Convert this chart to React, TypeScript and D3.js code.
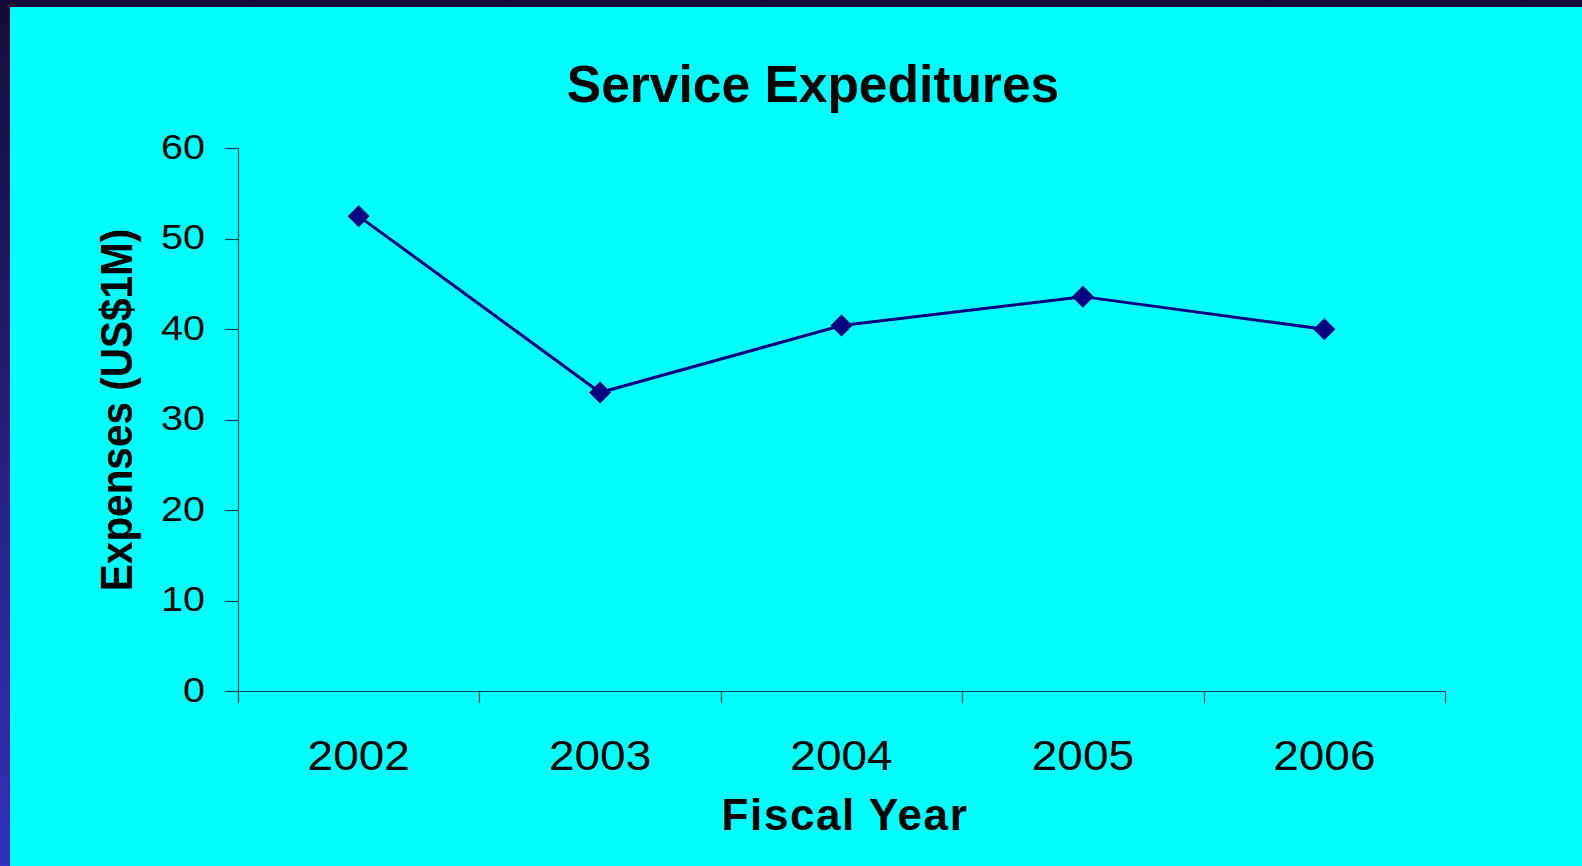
import React from "react";
import * as d3 from "d3";

const years = ["2002", "2003", "2004", "2005", "2006"];
const expenses = [52.5, 33, 40.4, 43.6, 40];
const yTicks = [0, 10, 20, 30, 40, 50, 60];
const title = "Service Expeditures";
const xTitle = "Fiscal Year";
const yTitle = "Expenses (US$1M)";

const W = 1582;
const H = 866;
const left = 238;
const right = 1445;
const top = 148.3;
const bottom = 691;

export default function App() {
  const x = d3.scaleBand<string>().domain(years).range([left, right]).padding(0);
  const y = d3.scaleLinear().domain([0, 60]).range([bottom, top]);
  const line = d3
    .line<number>()
    .x((_, i) => (x(years[i]) as number) + x.bandwidth() / 2)
    .y((d) => y(d));
  const xTickPos = [...years.map((yr) => x(yr) as number), right];
  const font = "'Liberation Sans', Arial, sans-serif";
  const axisColor = "#0e4a4a";
  const m = 11;

  return (
    <div style={{ position: "absolute", left: 0, top: 0 }}>
      <svg width={W} height={H} style={{ display: "block" }}>
        <defs>
          <linearGradient id="bg" x1="0" y1="0" x2="0" y2="1">
            <stop offset="0" stopColor="#120d36" />
            <stop offset="1" stopColor="#3331bd" />
          </linearGradient>
        </defs>
        <rect x={0} y={0} width={W} height={H} fill="url(#bg)" />
        <rect x={10} y={7} width={W - 10} height={H - 7} fill="#00ffff" />

        <text x={813} y={101.5} textAnchor="middle" fontFamily={font} fontWeight="bold" fontSize={51.5} fill="#000">
          {title}
        </text>

        {/* y axis */}
        <line x1={left + 0.5} x2={left + 0.5} y1={top} y2={bottom + 12} stroke={axisColor} strokeWidth={1.2} />
        {yTicks.map((t) => (
          <g key={t}>
            <line x1={left - 13} x2={left} y1={Math.round(y(t)) + 0.5} y2={Math.round(y(t)) + 0.5} stroke={axisColor} strokeWidth={1.2} />
            <text
              transform={`translate(205,${y(t) + 10.5}) scale(1,0.9)`}
              textAnchor="end"
              fontFamily={font}
              fontSize={39.5}
              fill="#000"
            >
              {t}
            </text>
          </g>
        ))}

        {/* x axis */}
        <line x1={left - 13} x2={right} y1={bottom + 0.5} y2={bottom + 0.5} stroke={axisColor} strokeWidth={1.2} />
        {xTickPos.map((p, i) => (
          <line key={i} x1={Math.round(p) + 0.5} x2={Math.round(p) + 0.5} y1={bottom} y2={bottom + 12} stroke={axisColor} strokeWidth={1.2} />
        ))}
        {years.map((yr) => (
          <text
            key={yr}
            transform={`translate(${(x(yr) as number) + x.bandwidth() / 2},769.5) scale(1,0.93)`}
            textAnchor="middle"
            fontFamily={font}
            fontSize={46}
            fill="#000"
          >
            {yr}
          </text>
        ))}

        <text
          x={845}
          y={830}
          textAnchor="middle"
          fontFamily={font}
          fontWeight="bold"
          fontSize={44}
          letterSpacing={1.6}
          fill="#000"
        >
          {xTitle}
        </text>
        <text
          transform={`translate(132,410) rotate(-90) scale(1,1.1)`}
          textAnchor="middle"
          fontFamily={font}
          fontWeight="bold"
          fontSize={40.5}
          fill="#000"
        >
          {yTitle}
        </text>

        <path d={line(expenses) || ""} fill="none" stroke="#000080" strokeWidth={3} />
        {expenses.map((v, i) => {
          const cx = (x(years[i]) as number) + x.bandwidth() / 2;
          const cy = y(v);
          return (
            <path
              key={i}
              d={`M${cx},${cy - m}L${cx + m},${cy}L${cx},${cy + m}L${cx - m},${cy}Z`}
              fill="#000080"
            />
          );
        })}
      </svg>
    </div>
  );
}
